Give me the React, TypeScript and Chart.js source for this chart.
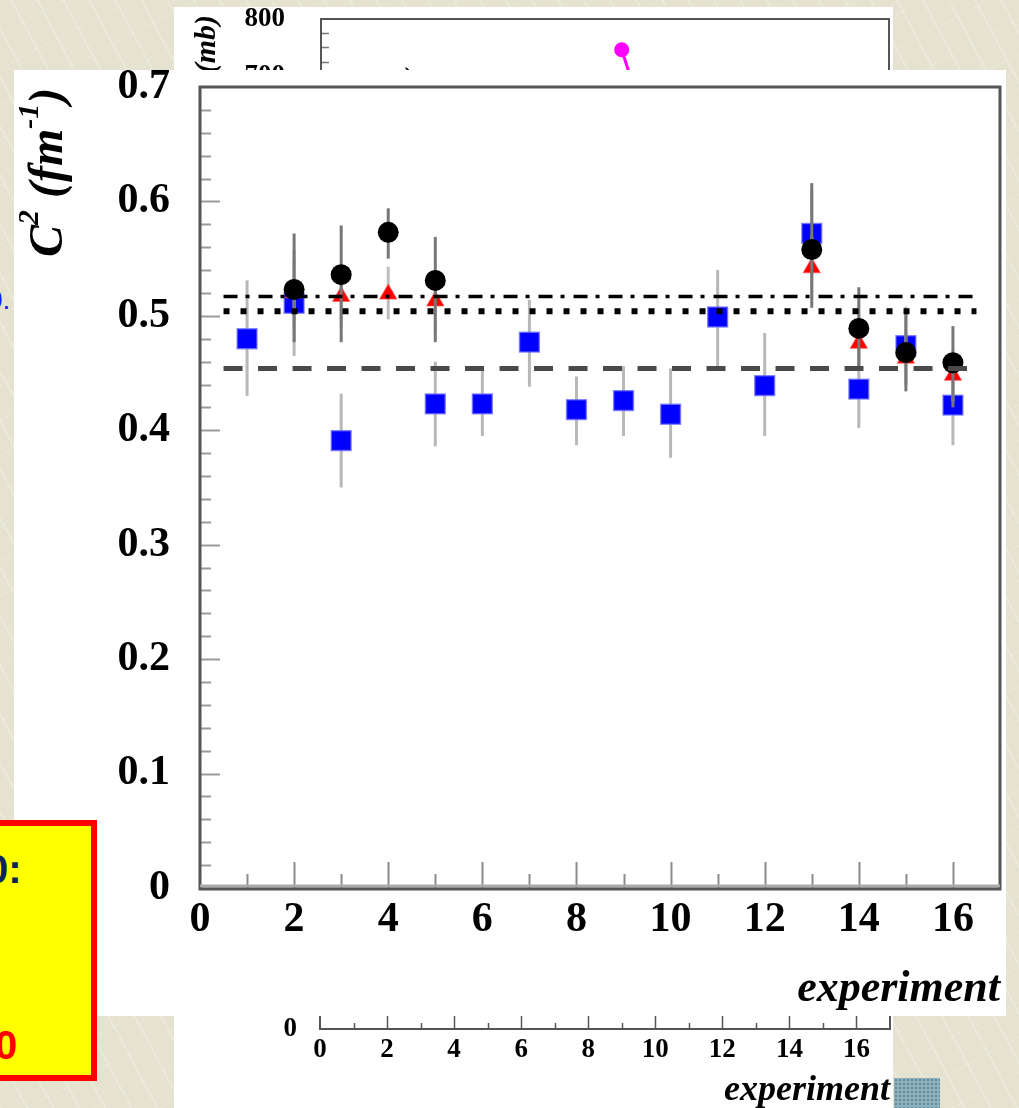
import React, { useEffect, useRef } from 'react';
import { Chart, registerables } from 'chart.js';

Chart.register(...registerables);

// ---- main panel: C^2 per experiment ----
const experimentTicks = [0, 2, 4, 6, 8, 10, 12, 14, 16];
const c2Ticks = [0, 0.1, 0.2, 0.3, 0.4, 0.5, 0.6, 0.7];

// blue squares
const blueExp = [1, 2, 3, 5, 6, 7, 8, 9, 10, 11, 12, 13, 14, 15, 16];
const blueC2 = [0.480, 0.511, 0.391, 0.423, 0.423, 0.477, 0.418, 0.426, 0.414, 0.499, 0.439, 0.572, 0.436, 0.474, 0.422];
const blueLow = [0.430, 0.465, 0.350, 0.386, 0.395, 0.438, 0.387, 0.395, 0.376, 0.456, 0.395, 0.535, 0.402, 0.440, 0.387];
const blueHigh = [0.531, 0.558, 0.432, 0.460, 0.453, 0.514, 0.447, 0.456, 0.454, 0.540, 0.485, 0.610, 0.472, 0.508, 0.457];

// black circles and red triangles share the same experiments
const pairExp = [2, 3, 4, 5, 13, 14, 15, 16];
const blackC2 = [0.523, 0.536, 0.573, 0.531, 0.558, 0.489, 0.468, 0.459];
const blackLow = [0.477, 0.477, 0.550, 0.477, 0.507, 0.453, 0.434, 0.420];
const blackHigh = [0.572, 0.579, 0.594, 0.569, 0.616, 0.525, 0.502, 0.491];
const redC2 = [0.520, 0.517, 0.519, 0.513, 0.542, 0.476, 0.463, 0.448];
const redLow = [0.490, 0.490, 0.497, 0.485, 0.515, 0.452, 0.440, 0.425];
const redHigh = [0.550, 0.545, 0.543, 0.540, 0.570, 0.500, 0.488, 0.470];

// mean levels drawn across the experiments
const fitRange = [0.5, 16.5];
const levelDashDot = 0.517;
const levelDotted = 0.504;
const levelDashed = 0.454;

// ---- panel a) behind: cross section (mb) ----
const sigmaExp = [9, 10];
const sigmaMb = [746, 564];
const sigmaTicks = [500, 600, 700, 800];

// ---- panel b) behind: axis only ----
const panelBYTicks = [0];

const serif = '"Liberation Serif", "Times New Roman", serif';

// drop the automatic label-overflow padding so the plot box sits exactly where the layout puts it
const noScalePadding = (s: any) => {
  s.paddingTop = 0;
  s.paddingBottom = 0;
  s.paddingLeft = 0;
  s.paddingRight = 0;
};

const errorBarPlugin = {
  id: 'errorBars',
  beforeDatasetDraw(chart: any, args: any) {
    const ds: any = chart.data.datasets[args.index];
    if (!ds.errorColor) return;
    const y = chart.scales.y;
    const ctx = chart.ctx;
    ctx.save();
    ctx.strokeStyle = ds.errorColor;
    ctx.lineWidth = 3;
    args.meta.data.forEach((el: any, i: number) => {
      const raw = ds.data[i];
      ctx.beginPath();
      ctx.moveTo(el.x, y.getPixelForValue(raw.lo));
      ctx.lineTo(el.x, y.getPixelForValue(raw.hi));
      ctx.stroke();
    });
    ctx.restore();
  },
};

const mainFramePlugin = {
  id: 'mainFrame',
  afterDatasetsDraw(chart: any) {
    const { ctx, chartArea: a, scales } = chart;
    const x = scales.x;
    const y = scales.y;
    ctx.save();
    // y tick marks (inside), every 0.02
    ctx.strokeStyle = '#9a9a9a';
    ctx.lineWidth = 2;
    for (let k = 1; k < 35; k++) {
      const py = Math.round(y.getPixelForValue(k * 0.02)) + 0.5;
      const len = k % 5 === 0 ? 20 : 11;
      ctx.beginPath();
      ctx.moveTo(a.left, py);
      ctx.lineTo(a.left + len, py);
      ctx.stroke();
    }
    // x tick marks (inside), every unit
    ctx.strokeStyle = '#8a8a8a';
    for (let k = 1; k <= 16; k++) {
      const px = Math.round(x.getPixelForValue(k)) + 0.5;
      const len = k % 2 === 0 ? 26 : 14;
      ctx.beginPath();
      ctx.moveTo(px, a.bottom);
      ctx.lineTo(px, a.bottom - len);
      ctx.stroke();
    }
    // frame
    ctx.strokeStyle = '#555';
    ctx.lineWidth = 3;
    ctx.beginPath();
    ctx.moveTo(a.left, a.bottom);
    ctx.lineTo(a.left, a.top);
    ctx.lineTo(a.right, a.top);
    ctx.lineTo(a.right, a.bottom);
    ctx.stroke();
    ctx.strokeStyle = '#aaa';
    ctx.lineWidth = 3;
    ctx.beginPath();
    ctx.moveTo(a.left, a.bottom - 2);
    ctx.lineTo(a.right, a.bottom - 2);
    ctx.stroke();
    ctx.strokeStyle = '#555';
    ctx.lineWidth = 3;
    ctx.beginPath();
    ctx.moveTo(a.left - 1.5, a.bottom + 1);
    ctx.lineTo(a.right + 1.5, a.bottom + 1);
    ctx.stroke();
    ctx.restore();
  },
};

// rotated y title: C^2 (fm^-1)
const c2TitlePlugin = {
  id: 'c2Title',
  afterDraw(chart: any) {
    const ctx = chart.ctx;
    ctx.save();
    ctx.translate(48, 187);
    ctx.rotate(-Math.PI / 2);
    ctx.fillStyle = '#000';
    ctx.textAlign = 'left';
    ctx.textBaseline = 'alphabetic';
    const big = `italic bold 48px ${serif}`;
    const small = `italic bold 30px ${serif}`;
    const parts: [string, string, number][] = [
      ['C', big, 0],
      ['2', small, -24],
      [' (fm', big, 0],
      ['-1', small, -24],
      [')', big, 0],
    ];
    let cx = 0;
    for (const [t, f, dy] of parts) {
      ctx.font = f;
      ctx.fillText(t, cx, dy);
      cx += ctx.measureText(t).width;
    }
    ctx.restore();
  },
};

const panelAPlugin = {
  id: 'panelAFrame',
  afterDatasetsDraw(chart: any) {
    const { ctx, chartArea: a, scales } = chart;
    const y = scales.y;
    ctx.save();
    ctx.strokeStyle = '#777';
    ctx.lineWidth = 1.5;
    for (let v = 525; v < 800; v += 25) {
      const py = Math.round(y.getPixelForValue(v)) + 0.5;
      ctx.beginPath();
      ctx.moveTo(a.left, py);
      ctx.lineTo(a.left + (v % 100 === 0 ? 14 : 8), py);
      ctx.stroke();
    }
    ctx.strokeStyle = '#555';
    ctx.lineWidth = 2;
    ctx.strokeRect(a.left, a.top, a.right - a.left, a.bottom - a.top);
    // y title
    ctx.fillStyle = '#000';
    ctx.save();
    ctx.translate(41, 8);
    ctx.rotate(-Math.PI / 2);
    ctx.font = `italic bold 30px ${serif}`;
    ctx.textAlign = 'right';
    ctx.textBaseline = 'alphabetic';
    ctx.fillText('\u03c3 (mb)', 0, 0);
    ctx.restore();
    ctx.font = `italic bold 32px ${serif}`;
    ctx.textAlign = 'left';
    ctx.fillText('a)', 213, 82);
    ctx.restore();
  },
};

const panelBPlugin = {
  id: 'panelBFrame',
  afterDatasetsDraw(chart: any) {
    const { ctx, chartArea: a, scales } = chart;
    const x = scales.x;
    ctx.save();
    ctx.strokeStyle = '#555';
    ctx.lineWidth = 1.5;
    for (let k = 1; k <= 16; k++) {
      const px = Math.round(x.getPixelForValue(k)) + 0.5;
      ctx.beginPath();
      ctx.moveTo(px, a.bottom);
      ctx.lineTo(px, a.bottom - (k % 2 === 0 ? 13 : 6));
      ctx.stroke();
    }
    ctx.lineWidth = 2;
    ctx.beginPath();
    ctx.moveTo(a.left, a.top);
    ctx.lineTo(a.left, a.bottom);
    ctx.lineTo(a.right, a.bottom);
    ctx.lineTo(a.right, a.top);
    ctx.stroke();
    ctx.restore();
  },
};

const hiddenGrid = { display: false, drawTicks: false, tickLength: 0 };

function mainConfig(): any {
  const points = (xs: number[], ys: number[], lo: number[], hi: number[]) =>
    xs.map((x, i) => ({ x, y: ys[i], lo: lo[i], hi: hi[i] }));
  const level = (v: number) => fitRange.map((x) => ({ x, y: v }));
  return {
    type: 'scatter',
    data: {
      datasets: [
        { label: 'level 1', data: level(levelDashDot), showLine: true, pointRadius: 0, borderColor: '#000', borderWidth: 3.5, borderDash: [14, 8, 4, 9], order: 0 },
        { label: 'level 2', data: level(levelDotted), showLine: true, pointRadius: 0, borderColor: '#000', borderWidth: 6, borderDash: [6, 11], order: 0 },
        { label: 'level 3', data: level(levelDashed), showLine: true, pointRadius: 0, borderColor: '#4a4a4a', borderWidth: 5, borderDash: [19, 15.5], order: 0 },
        { label: 'black', data: points(pairExp, blackC2, blackLow, blackHigh), pointStyle: 'circle', pointRadius: 10.5, backgroundColor: '#000', borderWidth: 0, errorColor: '#777', order: 1 },
        { label: 'red', data: points(pairExp, redC2, redLow, redHigh), pointStyle: 'triangle', pointRadius: 10, backgroundColor: '#ff0000', borderColor: 'rgba(255,90,90,0.7)', borderWidth: 1, errorColor: '#bdbdbd', order: 2 },
        { label: 'blue', data: points(blueExp, blueC2, blueLow, blueHigh), pointStyle: 'rect', pointRadius: 14, backgroundColor: '#0000ff', borderColor: 'rgba(110,110,255,0.75)', borderWidth: 1.5, errorColor: '#b8b8b8', order: 3 },
      ],
    },
    options: {
      animation: false,
      responsive: false,
      events: [],
      layout: { autoPadding: false, padding: { top: 17, right: 6, left: 0, bottom: 0 } },
      plugins: { legend: { display: false }, tooltip: { enabled: false } },
      scales: {
        x: {
          type: 'linear',
          min: 0,
          max: 17,
          grid: hiddenGrid,
          border: { display: false },
          afterBuildTicks: (s: any) => { s.ticks = experimentTicks.map((value) => ({ value })); },
          afterFit: (s: any) => { s.height = 128; noScalePadding(s); },
          ticks: { font: { family: serif, size: 42, weight: 'bold' }, color: '#000', padding: 7, maxRotation: 0, autoSkip: false, callback: (v: any) => String(v) },
          title: { display: true, text: 'experiment', align: 'end', color: '#000', font: { family: serif, size: 44, style: 'italic', weight: 'bold', lineHeight: 1.2 }, padding: { top: 0, bottom: 0 } },
        },
        y: {
          type: 'linear',
          min: 0,
          max: 0.7,
          grid: hiddenGrid,
          border: { display: false },
          afterBuildTicks: (s: any) => { s.ticks = c2Ticks.map((value) => ({ value })); },
          afterFit: (s: any) => { s.width = 186; noScalePadding(s); },
          ticks: { font: { family: serif, size: 42, weight: 'bold', lineHeight: 0.8 }, color: '#000', padding: 30, autoSkip: false, callback: (v: any) => (Number(v) === 0 ? '0' : Number(v).toFixed(1)) },
        },
      },
    },
    plugins: [errorBarPlugin, mainFramePlugin, c2TitlePlugin],
  };
}

function panelAConfig(): any {
  return {
    type: 'scatter',
    data: {
      datasets: [
        { label: 'sigma', data: sigmaExp.map((x, i) => ({ x, y: sigmaMb[i] })), showLine: true, borderColor: '#ff00ff', backgroundColor: '#ff00ff', borderWidth: 3, pointRadius: 6, pointStyle: 'circle' },
      ],
    },
    options: {
      animation: false,
      responsive: false,
      events: [],
      layout: { autoPadding: false, padding: { top: 12, right: 4, left: 0, bottom: 0 } },
      plugins: { legend: { display: false }, tooltip: { enabled: false } },
      scales: {
        x: { type: 'linear', min: 0, max: 17, grid: hiddenGrid, border: { display: false }, ticks: { display: false }, afterFit: (s: any) => { s.height = 17; noScalePadding(s); } },
        y: {
          type: 'linear', min: 500, max: 800, grid: hiddenGrid, border: { display: false },
          afterBuildTicks: (s: any) => { s.ticks = sigmaTicks.map((value) => ({ value })); },
          afterFit: (s: any) => { s.width = 147; noScalePadding(s); },
          ticks: { font: { family: serif, size: 27, weight: 'bold', lineHeight: 0.8 }, color: '#000', padding: 36 },
        },
      },
    },
    plugins: [panelAPlugin],
  };
}

function panelBConfig(): any {
  return {
    type: 'scatter',
    data: { datasets: [] },
    options: {
      animation: false,
      responsive: false,
      events: [],
      layout: { autoPadding: false, padding: { top: 10, right: 3, left: 0, bottom: 0 } },
      plugins: { legend: { display: false }, tooltip: { enabled: false } },
      scales: {
        x: {
          type: 'linear', min: 0, max: 17, grid: hiddenGrid, border: { display: false },
          afterBuildTicks: (s: any) => { s.ticks = experimentTicks.map((value) => ({ value })); },
          afterFit: (s: any) => { s.height = 79; noScalePadding(s); },
          ticks: { font: { family: serif, size: 27, weight: 'bold' }, color: '#000', padding: 5, maxRotation: 0, autoSkip: false },
          title: { display: true, text: 'experiment', align: 'end', color: '#000', font: { family: serif, size: 36, style: 'italic', weight: 'bold', lineHeight: 1 }, padding: { top: 0, bottom: -1 } },
        },
        y: {
          type: 'linear', min: 0, max: 1, grid: hiddenGrid, border: { display: false },
          afterBuildTicks: (s: any) => { s.ticks = panelBYTicks.map((value) => ({ value })); },
          afterFit: (s: any) => { s.width = 146; noScalePadding(s); },
          ticks: { font: { family: serif, size: 27, weight: 'bold', lineHeight: 0.8 }, color: '#000', padding: 23 },
        },
      },
    },
    plugins: [panelBPlugin],
  };
}

function ChartCanvas({ build, width, height, style }: { build: () => any; width: number; height: number; style?: React.CSSProperties }) {
  const ref = useRef<HTMLCanvasElement>(null);
  useEffect(() => {
    const chart = new Chart(ref.current as HTMLCanvasElement, build());
    return () => chart.destroy();
  }, []);
  return <canvas ref={ref} width={width} height={height} style={{ display: 'block', position: 'absolute', width, height, ...style }} />;
}

export default function App() {
  return (
    <div
      style={{
        position: 'absolute',
        left: 0,
        top: 0,
        width: 1019,
        height: 1108,
        overflow: 'hidden',
        background:
          'repeating-linear-gradient(62deg, rgba(255,255,255,0.22) 0 2px, transparent 2px 23px), repeating-linear-gradient(-28deg, rgba(255,255,255,0.16) 0 1px, transparent 1px 31px), #e5e3cf',
        fontFamily: 'Arial, "Liberation Sans", sans-serif',
      }}
    >
      <div style={{ position: 'absolute', left: -13, top: 286, fontSize: 28, lineHeight: '28px', color: '#1a1aff' }}>0.</div>

      {/* panels behind the main one */}
      <div style={{ position: 'absolute', left: 174, top: 7, width: 719, height: 1101, background: '#fff' }}>
        <ChartCanvas build={panelAConfig} width={719} height={200} style={{ left: 0, top: 0 }} />
        <ChartCanvas build={panelBConfig} width={719} height={208} style={{ left: 0, top: 893 }} />
      </div>
      <div
        style={{
          position: 'absolute',
          left: 894,
          top: 1078,
          width: 46,
          height: 30,
          background: 'radial-gradient(circle, rgba(60,110,130,0.55) 1px, transparent 1.5px) 0 0 / 4px 4px, #8db0bd',
        }}
      />

      {/* main panel */}
      <div style={{ position: 'absolute', left: 14, top: 70, width: 992, height: 946, background: '#fff' }}>
        <ChartCanvas build={mainConfig} width={992} height={946} style={{ left: 0, top: 0 }} />
      </div>

      {/* note box */}
      <div
        style={{
          position: 'absolute',
          left: -12,
          top: 820,
          width: 109,
          height: 261,
          boxSizing: 'border-box',
          background: '#ffff00',
          border: '6px solid #ff0000',
          overflow: 'hidden',
        }}
      >
        <div style={{ position: 'absolute', left: -8, top: 23, fontSize: 40, lineHeight: '40px', fontWeight: 'bold', color: '#0a2456' }}>0:</div>
        <div style={{ position: 'absolute', left: 1, top: 199, fontSize: 40, lineHeight: '40px', fontWeight: 'bold', color: '#ff0000' }}>0</div>
      </div>
    </div>
  );
}
